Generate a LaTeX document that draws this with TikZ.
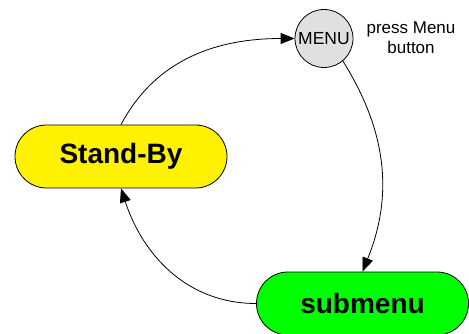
\documentclass[tikz,border=0pt]{standalone}
\usepackage{fontspec}
\setmainfont{Liberation Sans}
\usetikzlibrary{arrows.meta,shapes.misc}
\begin{document}
\begin{tikzpicture}[x=1pt,y=-1pt,
  statebox/.style={draw=black,line width=0.8pt,rounded rectangle,minimum width=212pt,minimum height=63pt,inner sep=0pt,font=\fontsize{28}{32}\selectfont\bfseries},
  menucircle/.style={draw=black,line width=0.8pt,circle,fill=black!12,minimum size=58pt,inner sep=0pt,font=\fontsize{17.5}{20}\selectfont},
  conn/.style={line width=0.8pt,-{Triangle[length=14pt,width=11pt]}}]
\useasboundingbox (0,0) rectangle (469,334);
\node[statebox,fill=yellow] (standby) at (121,156.5) {Stand-By};
\node[statebox,fill=green] (submenu) at (362.5,303.5) {submenu};
\node[menucircle] (menu) at (324,38.5) {MENU};
\node[align=center,font=\fontsize{17}{20}\selectfont,inner sep=0pt] (note) at (411,38) {press Menu\\button};
\draw[conn] (standby.north) to[out=62,in=180] (menu.west);
\draw[conn] (menu.-50) to[out=-58,in=68] (submenu.north);
\draw[conn] (submenu.west) to[out=180,in=-72] (standby.south);
\end{tikzpicture}
\end{document}
